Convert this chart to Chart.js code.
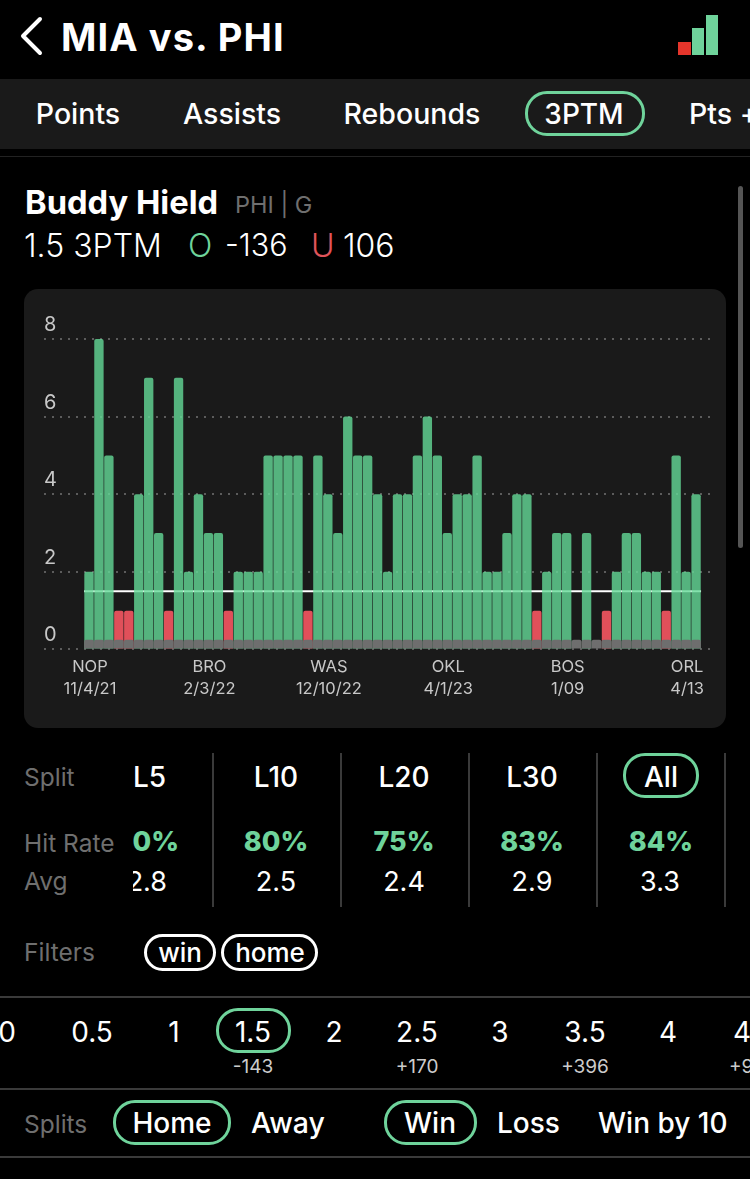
<!DOCTYPE html>
<html>
<head>
<meta charset="utf-8">
<title>MIA vs. PHI</title>
<script src="https://cdn.jsdelivr.net/npm/chart.js@4/dist/chart.umd.js"></script>
<style>
html, body { margin: 0; padding: 0; background: #000; }
body { width: 750px; height: 1179px; overflow: hidden; position: relative; font-family: Inter, sans-serif; color: #fff; }
.t { position: absolute; white-space: nowrap; line-height: 1; transform: translateX(-50%); }
.l { position: absolute; white-space: nowrap; line-height: 1; }
.grey { color: #6f6f6f; }
.pill { position: absolute; box-sizing: border-box; border: 3px solid #6fd39b; border-radius: 22px; }
.pill.white { border-color: #fff; }
.rule { position: absolute; background: #3a3a3a; }
#tabs { position: absolute; left: 0; top: 79px; width: 750px; height: 70px; background: #1a1a1a; }
#panel { position: absolute; left: 24px; top: 289px; width: 702px; height: 439px; background: #1a1a1a; border-radius: 14px; }
#panel canvas { position: absolute; left: 0; top: 0; }
#scroll { position: absolute; left: 738px; top: 186px; width: 5px; height: 362px; background: #555; border-radius: 3px; }
.ib { position: absolute; }
</style>
</head>
<body>
<svg style="position:absolute;left:18px;top:16px" width="26" height="40"><path d="M22 3 L5 20 L22 37" fill="none" stroke="#fff" stroke-width="4" stroke-linecap="round" stroke-linejoin="round"/></svg>
<div class="l" style="left:61px;top:18px;font-size:38px;font-weight:700;letter-spacing:1.1px">MIA vs. PHI</div>
<div class="ib" style="left:678px;top:42px;width:13px;height:13px;background:#e5352b"></div>
<div class="ib" style="left:692px;top:28px;width:12px;height:27px;background:#6fd39b"></div>
<div class="ib" style="left:706px;top:15px;width:12px;height:40px;background:#6fd39b"></div>

<div id="tabs"></div>
<div class="t" style="left:78px;top:100px;font-size:28.5px;font-weight:500">Points</div>
<div class="t" style="left:232px;top:100px;font-size:28.5px;font-weight:500">Assists</div>
<div class="t" style="left:412px;top:100px;font-size:28.5px;font-weight:500">Rebounds</div>
<div class="pill" style="left:525px;top:91px;width:120px;height:45px"></div>
<div class="t" style="left:584px;top:100px;font-size:28px;font-weight:500">3PTM</div>
<div class="l" style="left:689px;top:100px;font-size:28.5px;font-weight:500">Pts +</div>
<div class="rule" style="left:0;top:156px;width:750px;height:1px;background:#222"></div>

<div class="l" style="left:25px;top:186px;font-size:32.7px;font-weight:700">Buddy Hield</div>
<div class="l grey" style="left:235px;top:193px;font-size:23.5px">PHI | G</div>
<div class="l" style="left:24px;top:230px;font-size:32px;font-weight:300">1.5 3PTM</div>
<div class="l" style="left:188px;top:230px;font-size:32px;font-weight:300;color:#6fd39b">O</div>
<div class="l" style="left:225px;top:230px;font-size:30.5px;font-weight:300">-136</div>
<div class="l" style="left:311px;top:230px;font-size:32px;font-weight:300;color:#e0545a">U</div>
<div class="l" style="left:343px;top:230px;font-size:32px;font-weight:300">106</div>
<div id="scroll"></div>

<div id="panel"><canvas id="hits_chart" width="702" height="439"></canvas></div>

<div class="l grey" style="left:24px;top:765px;font-size:24.5px">Split</div>
<div class="l grey" style="left:24px;top:831px;font-size:24.5px">Hit Rate</div>
<div class="l grey" style="left:24px;top:869px;font-size:24.5px">Avg</div>
<div class="l" style="left:133px;top:763px;font-size:28px;font-weight:500">L5</div>
<div class="t" style="left:276px;top:763px;font-size:28px;font-weight:500">L10</div>
<div class="t" style="left:404px;top:763px;font-size:28px;font-weight:500">L20</div>
<div class="t" style="left:532px;top:763px;font-size:28px;font-weight:500">L30</div>
<div class="pill" style="left:623px;top:753px;width:76px;height:45px"></div>
<div class="t" style="left:661px;top:763px;font-size:28px;font-weight:500">All</div>
<div class="l" style="left:133px;top:828px;width:46px;height:27px;overflow:hidden;font-size:27px;font-weight:800;color:#6fd39b;direction:rtl">80%</div>
<div class="t" style="left:276px;top:828px;font-size:27px;font-weight:800;color:#6fd39b">80%</div>
<div class="t" style="left:404px;top:828px;font-size:27px;font-weight:800;color:#6fd39b">75%</div>
<div class="t" style="left:532px;top:828px;font-size:27px;font-weight:800;color:#6fd39b">83%</div>
<div class="t" style="left:661px;top:828px;font-size:27px;font-weight:800;color:#6fd39b">84%</div>
<div class="l" style="left:133px;top:868px;width:34px;height:27px;overflow:hidden;font-size:27px;direction:rtl">2.8</div>
<div class="t" style="left:276px;top:868px;font-size:27px">2.5</div>
<div class="t" style="left:404px;top:868px;font-size:27px">2.4</div>
<div class="t" style="left:532px;top:868px;font-size:27px">2.9</div>
<div class="t" style="left:660px;top:868px;font-size:27px">3.3</div>
<div class="rule" style="left:212px;top:753px;width:2px;height:154px"></div>
<div class="rule" style="left:340px;top:753px;width:2px;height:154px"></div>
<div class="rule" style="left:468px;top:753px;width:2px;height:154px"></div>
<div class="rule" style="left:596px;top:753px;width:2px;height:154px"></div>
<div class="rule" style="left:724px;top:753px;width:2px;height:154px"></div>

<div class="l grey" style="left:24px;top:940px;font-size:24.5px">Filters</div>
<div class="pill white" style="left:144px;top:934px;width:72px;height:37px"></div>
<div class="t" style="left:180px;top:940px;font-size:26px;font-weight:500">win</div>
<div class="pill white" style="left:221px;top:934px;width:97px;height:37px"></div>
<div class="t" style="left:270px;top:940px;font-size:26px;font-weight:500">home</div>

<div class="rule" style="left:0;top:996px;width:750px;height:2px"></div>
<div class="t" style="left:7px;top:1018px;font-size:28px">0</div>
<div class="t" style="left:92px;top:1018px;font-size:28px">0.5</div>
<div class="t" style="left:174px;top:1018px;font-size:28px">1</div>
<div class="pill" style="left:216px;top:1008px;width:75px;height:45px"></div>
<div class="t" style="left:253px;top:1018px;font-size:28px">1.5</div>
<div class="t" style="left:334px;top:1018px;font-size:28px">2</div>
<div class="t" style="left:417px;top:1018px;font-size:28px">2.5</div>
<div class="t" style="left:500px;top:1018px;font-size:28px">3</div>
<div class="t" style="left:585px;top:1018px;font-size:28px">3.5</div>
<div class="t" style="left:668px;top:1018px;font-size:28px">4</div>
<div class="l" style="left:733px;top:1018px;font-size:28px">4</div>
<div class="t" style="left:253px;top:1057px;font-size:19px;color:#ccc">-143</div>
<div class="t" style="left:417px;top:1057px;font-size:19px;color:#ccc">+170</div>
<div class="t" style="left:585px;top:1057px;font-size:19px;color:#ccc">+396</div>
<div class="l" style="left:729px;top:1057px;font-size:19px;color:#ccc">+9</div>

<div class="rule" style="left:0;top:1088px;width:750px;height:2px"></div>
<div class="l grey" style="left:24px;top:1112px;font-size:24.5px">Splits</div>
<div class="pill" style="left:113px;top:1100px;width:118px;height:45px"></div>
<div class="t" style="left:172px;top:1109px;font-size:28px;font-weight:500">Home</div>
<div class="l" style="left:251px;top:1109px;font-size:28.5px;font-weight:500">Away</div>
<div class="pill" style="left:384px;top:1100px;width:93px;height:45px"></div>
<div class="t" style="left:430px;top:1109px;font-size:28px;font-weight:500">Win</div>
<div class="l" style="left:497px;top:1109px;font-size:28px;font-weight:500">Loss</div>
<div class="l" style="left:598px;top:1109px;font-size:28px;font-weight:500">Win by 10</div>
<div class="rule" style="left:0;top:1156px;width:750px;height:2px"></div>

<script>
// threes made per game, oldest first
const threes_made = [
    2, 8, 5, 1, 1, 4, 7, 3, 1, 7,
    2, 4, 3, 3, 1, 2, 2, 2, 5, 5,
    5, 5, 1, 5, 4, 3, 6, 5, 5, 4,
    2, 4, 4, 5, 6, 5, 3, 4, 4, 5,
    2, 2, 3, 4, 4, 1, 2, 3, 3, 0,
    3, 0, 1, 2, 3, 3, 2, 2, 1, 5,
    2, 4
];
const prop_line = 1.5;
const floor_height = 0.25;
const tick_opponents = ['NOP', 'BRO', 'WAS', 'OKL', 'BOS', 'ORL'];
const tick_dates = ['11/4/21', '2/3/22', '12/10/22', '4/1/23', '1/09', '4/13'];
const tick_step = 12;

// green is see-through so the white line shows pale inside the bars
const green = 'rgb(100 217 151 / 80%)';
const red = '#e0505a';
const grey = '#6e6e6e';

const hitsElement = document.getElementById('hits_chart').getContext('2d');
new Chart(hitsElement, {
    data: {
        datasets: [
            {
                type: 'line',
                data: [{x: -0.5, y: prop_line}, {x: threes_made.length - 0.5, y: prop_line}],
                borderColor: '#ffffff',
                borderWidth: 2,
                pointRadius: 0,
                order: 3
            },
            {
                type: 'bar',
                data: threes_made.map((v, i) => ({x: i, y: v})),
                backgroundColor: threes_made.map(v => v > prop_line ? green : red),
                borderRadius: {topLeft: 2, topRight: 2},
                borderSkipped: 'bottom',
                barPercentage: 0.94,
                categoryPercentage: 1,
                order: 2
            },
            {
                type: 'bar',
                data: threes_made.map((v, i) => ({x: i, y: floor_height})),
                backgroundColor: grey,
                borderRadius: {topLeft: 2, topRight: 2},
                borderSkipped: 'bottom',
                barPercentage: 0.98,
                categoryPercentage: 1,
                order: 0
            }
        ]
    },
    options: {
        responsive: false,
        animation: false,
        layout: { padding: { left: 20, right: 16, top: 50, bottom: 30 } },
        plugins: { legend: { display: false }, tooltip: { enabled: false } },
        scales: {
            x: {
                type: 'linear',
                stacked: true,
                offset: false,
                min: -4.52,
                max: 62.4,
                border: { display: false },
                grid: { display: false },
                afterBuildTicks: axis => {
                    axis.ticks = tick_opponents.map((name, i) => ({ value: i * tick_step }));
                },
                ticks: {
                    autoSkip: false,
                    maxRotation: 0,
                    color: '#c8c8c8',
                    padding: -2,
                    labelOffset: 1,
                    font: { family: 'Inter', size: 16.5, lineHeight: 1.35 },
                    callback: value => [tick_opponents[value / tick_step], tick_dates[value / tick_step]]
                }
            },
            y: {
                min: 0,
                max: 8,
                border: { display: false, dash: [2, 6] },
                grid: { color: '#5c5c5c', lineWidth: 2, drawTicks: false },
                ticks: {
                    stepSize: 2,
                    mirror: true,
                    padding: 0,
                    labelOffset: -14,
                    color: '#c8c8c8',
                    font: { family: 'Inter', size: 20 }
                }
            }
        }
    }
});
</script>
</body>
</html>
